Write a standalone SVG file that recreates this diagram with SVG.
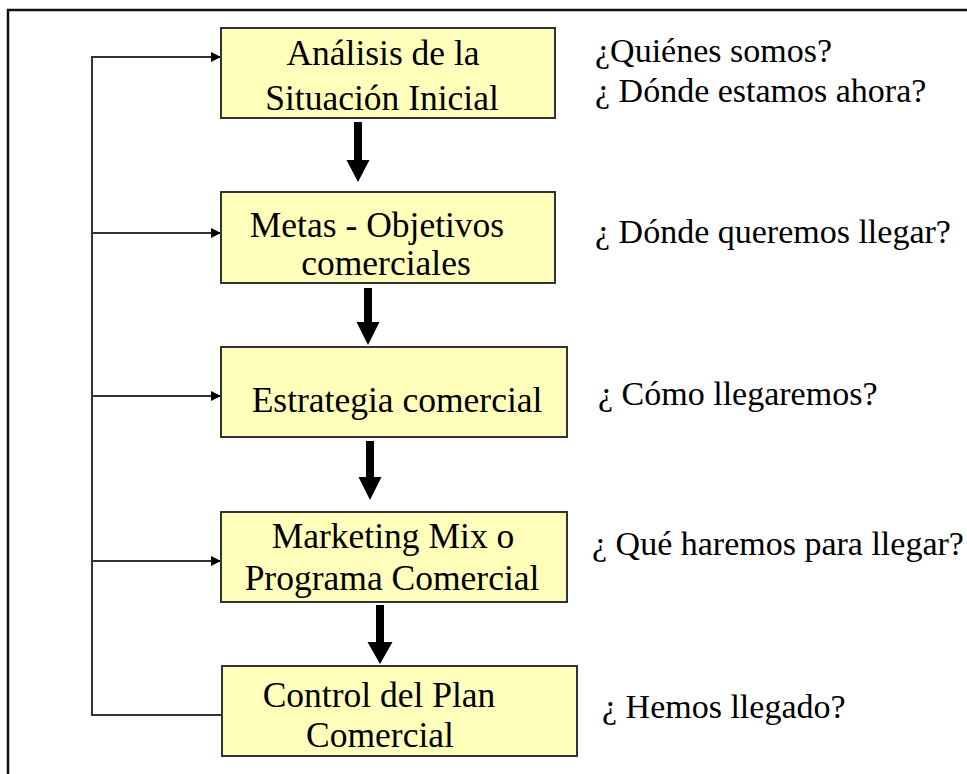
<svg xmlns="http://www.w3.org/2000/svg" width="967" height="774" viewBox="0 0 967 774">
<style>
.box{fill:#ffffbb;stroke:#333;stroke-width:2}
.t{font-family:"Liberation Serif","Times New Roman",serif;font-size:35.5px;fill:#000}
.q{font-size:34px}
.m{text-anchor:middle}
.fb{fill:none;stroke:#333;stroke-width:2}
.big{fill:#000}
</style>
<defs>
<marker id="ah" markerWidth="10" markerHeight="10" refX="10" refY="5" orient="auto" markerUnits="userSpaceOnUse">
<path d="M0,0 L10,5 L0,10 Z" fill="#000"/>
</marker>
</defs>
<rect x="8" y="10" width="980" height="790" fill="none" stroke="#111" stroke-width="2.5"/>
<g id="connectors">
<path class="fb" d="M221,715 H92 V57 H221" marker-end="url(#ah)"/>
<path class="fb" d="M92,233 H221" marker-end="url(#ah)"/>
<path class="fb" d="M92,396 H221" marker-end="url(#ah)"/>
<path class="fb" d="M92,561 H221" marker-end="url(#ah)"/>
<path class="big" d="M354,122 H362 V160 H369.5 L358,182 L346.5,160 H354 Z"/>
<path class="big" d="M364,288 H372 V322 H379.5 L368,345 L356.5,322 H364 Z"/>
<path class="big" d="M366,441 H374 V477 H381.5 L370,500 L358.5,477 H366 Z"/>
<path class="big" d="M376,605 H384 V642 H392.5 L380,664 L367.5,642 H376 Z"/>
</g>
<g id="n1">
<rect class="box" x="221" y="28" width="334" height="90"/>
<text class="t m" x="383" y="65">Análisis de la</text>
<text class="t m" x="382" y="110">Situación Inicial</text>
</g>
<g id="n2">
<rect class="box" x="221" y="192" width="334" height="91"/>
<text class="t m" x="377" y="237">Metas - Objetivos</text>
<text class="t m" x="386" y="275">comerciales</text>
</g>
<g id="n3">
<rect class="box" x="221" y="347" width="346" height="90"/>
<text class="t m" x="397" y="412">Estrategia comercial</text>
</g>
<g id="n4">
<rect class="box" x="221" y="512" width="346" height="90"/>
<text class="t m" x="393" y="548">Marketing Mix o</text>
<text class="t m" x="392" y="590">Programa Comercial</text>
</g>
<g id="n5">
<rect class="box" x="222" y="666" width="355" height="90"/>
<text class="t m" x="379" y="707">Control del Plan</text>
<text class="t m" x="380" y="747">Comercial</text>
</g>
<g id="questions">
<text class="t q" x="595" y="62">¿Quiénes somos?</text>
<text class="t q" x="595" y="102">¿ Dónde estamos ahora?</text>
<text class="t q" x="595" y="243">¿ Dónde queremos llegar?</text>
<text class="t q" x="598" y="405">¿ Cómo llegaremos?</text>
<text class="t q" x="592" y="555">¿ Qué haremos para llegar?</text>
<text class="t q" x="602" y="718">¿ Hemos llegado?</text>
</g>
</svg>
